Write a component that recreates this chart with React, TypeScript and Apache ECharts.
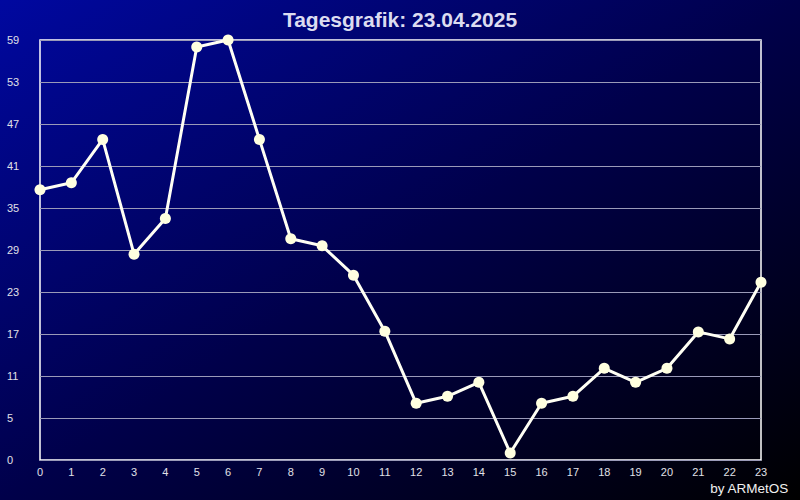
import React, { useEffect, useRef } from "react";
import * as echarts from "echarts";

const hours = ["0","1","2","3","4","5","6","7","8","9","10","11","12","13","14","15","16","17","18","19","20","21","22","23"];
const values = [37.6, 38.6, 44.8, 28.4, 33.5, 58, 59, 44.8, 30.6, 29.6, 25.4, 17.4, 7.1, 8.1, 10.1, 0, 7.1, 8.1, 12.1, 10.1, 12.1, 17.3, 16.3, 24.4];
const titleText = "Tagesgrafik: 23.04.2025";
const creditText = "by ARMetOS";

export default function App() {
  const ref = useRef<HTMLDivElement>(null);
  useEffect(() => {
    if (!ref.current) return;
    const chart = echarts.init(ref.current, null, { renderer: "svg" });
    chart.setOption({
      animation: false,
      backgroundColor: {
        type: "linear", x: 0, y: 0, x2: 1, y2: 1,
        colorStops: [
          { offset: 0, color: "#0008a0" },
          { offset: 0.5, color: "#00004a" },
          { offset: 1, color: "#000000" },
        ],
      },
      title: {
        text: titleText,
        left: "center",
        top: 4,
        textStyle: { color: "#dcdcf0", fontSize: 21, fontWeight: "bold", fontFamily: "Liberation Sans, Arial, sans-serif" },
      },
      graphic: [
        {
          type: "text",
          right: 11,
          bottom: 5,
          style: { text: creditText, fill: "#f0f0f0", fontSize: 13.5, fontFamily: "Liberation Sans, Arial, sans-serif" },
        },
      ],
      grid: {
        left: 40, right: 39, top: 40, bottom: 40,
        show: true, borderColor: "#ffffff", borderWidth: 1.5,
        backgroundColor: "transparent",
      },
      xAxis: {
        type: "category",
        data: hours,
        boundaryGap: false,
        axisLine: { show: false },
        axisTick: { show: false },
        splitLine: { show: false },
        axisLabel: { color: "#e0e0e8", fontSize: 11, margin: 6, fontFamily: "Liberation Sans, Arial, sans-serif", interval: 0 },
      },
      yAxis: {
        type: "value",
        min: -1,
        max: 59,
        interval: 6,
        axisLine: { show: false },
        axisTick: { show: false },
        splitLine: { show: true, lineStyle: { color: "#9a9ab8", width: 1 } },
        axisLabel: {
          color: "#e0e0e8", fontSize: 11, align: "left", margin: 33,
          fontFamily: "Liberation Sans, Arial, sans-serif",
          formatter: (v: number) => (v === -1 ? "0" : String(v)),
        },
      },
      series: [
        {
          type: "line",
          data: values,
          symbol: "circle",
          symbolSize: 11,
          lineStyle: { color: "#fffff4", width: 3 },
          itemStyle: { color: "#ffffe0", borderWidth: 0 },
        },
      ],
    });
    return () => chart.dispose();
  }, []);
  return <div ref={ref} style={{ width: 800, height: 500, position: "absolute", left: 0, top: 0 }} />;
}
